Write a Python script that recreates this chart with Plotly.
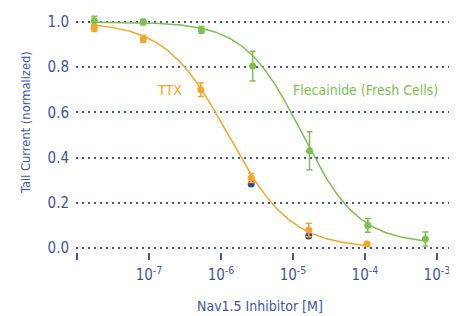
import numpy as np
import plotly.graph_objects as go

# ---- data ----
ttx_logx = [-7.76, -7.08, -6.28, -5.58, -4.78, -3.97]
ttx_y = [0.973, 0.925, 0.70, 0.31, 0.08, 0.018]
ttx_err = [0.015, 0.015, 0.03, 0.02, 0.03, 0.0]

ttx2_logx = [-5.58, -4.78]
ttx2_y = [0.283, 0.053]

flec_logx = [-7.76, -7.08, -6.27, -5.56, -4.77, -3.96, -3.16]
flec_y = [1.005, 1.0, 0.965, 0.805, 0.43, 0.10, 0.04]
flec_err = [0.02, 0.012, 0.015, 0.066, 0.084, 0.03, 0.031]

# Hill fit parameters (top, bottom, logIC50, slope)
ttx_fit = (1.0, 0.0, -5.9, 1.0)
flec_fit = (1.0, 0.02, -4.88, 1.1)

tick_vals = [1e-8, 1e-7, 1e-6, 1e-5, 1e-4, 1e-3]
tick_text = ["", "10<sup>-7</sup>", "10<sup>-6</sup>", "10<sup>-5</sup>", "10<sup>-4</sup>", "10<sup>-3</sup>"]
y_ticks = [0.0, 0.2, 0.4, 0.6, 0.8, 1.0]

ORANGE = "#f7a525"
GREEN = "#7cc04e"
BLUE = "#3d55a6"
NAVY = "#2f4a9c"
FONT = "DejaVu Sans Condensed, Liberation Sans Narrow, sans-serif"


def hill(lx, p):
    top, bot, lic, h = p
    lx = np.asarray(lx)
    return bot + (top - bot) / (1 + 10 ** (h * (lx - lic)))


fig = go.Figure()

for logx, p, col in [(ttx_logx, ttx_fit, ORANGE), (flec_logx, flec_fit, GREEN)]:
    lx = np.linspace(min(logx), max(logx), 200)
    fig.add_trace(go.Scatter(x=10 ** lx, y=hill(lx, p), mode="lines",
                             line=dict(color=col, width=1.5), hoverinfo="skip"))

fig.add_trace(go.Scatter(x=10 ** np.array(ttx2_logx), y=ttx2_y, mode="markers",
                         marker=dict(color=NAVY, size=7)))

fig.add_trace(go.Scatter(x=10 ** np.array(flec_logx), y=flec_y, mode="markers",
                         marker=dict(color=GREEN, size=7),
                         error_y=dict(type="data", array=flec_err, color=GREEN,
                                      thickness=1.5, width=3)))
fig.add_trace(go.Scatter(x=10 ** np.array(ttx_logx), y=ttx_y, mode="markers",
                         marker=dict(color=ORANGE, size=7),
                         error_y=dict(type="data", array=ttx_err, color=ORANGE,
                                      thickness=1.5, width=3)))

fig.add_annotation(x=-6.71, y=0.70, text="TTX", showarrow=False,
                   font=dict(color=ORANGE, size=14, family=FONT))
fig.add_annotation(x=-3.99, y=0.70, text="Flecainide (Fresh Cells)", showarrow=False,
                   font=dict(color=GREEN, size=14, family=FONT))

# axis titles as paper-positioned annotations
fig.add_annotation(xref="paper", yref="paper", x=0.489, y=-0.227,
                   xanchor="center", yanchor="middle",
                   text="Nav1.5 Inhibitor [M]", showarrow=False,
                   font=dict(color=BLUE, size=14, family=FONT))
fig.add_annotation(xref="paper", yref="paper", x=-0.1356, y=0.542,
                   xanchor="center", yanchor="middle",
                   text="Tail Current (normalized)", showarrow=False, textangle=-90,
                   font=dict(color=BLUE, size=12.8, family=FONT))

# page body has an 8px margin, so the figure is 8px smaller and shifted
fig.update_layout(
    width=449, height=308,
    margin=dict(l=68, r=5, t=6, b=64),
    paper_bgcolor="white", plot_bgcolor="white",
    showlegend=False,
    font=dict(family=FONT, color=BLUE, size=15),
    xaxis=dict(type="log", range=[-8.014, -2.79], automargin=False,
               tickvals=tick_vals, ticktext=tick_text,
               ticks="outside", ticklen=7, tickwidth=1.5, tickcolor=BLUE,
               ticklabelstandoff=2,
               showgrid=False, zeroline=False, showline=False,
               tickfont=dict(size=15, color=BLUE)),
    yaxis=dict(range=[-0.0177, 1.0354], tickvals=y_ticks, automargin=False,
               tickformat=".1f", ticks="", showline=False, zeroline=False,
               ticklabelstandoff=6,
               showgrid=True, gridcolor=BLUE, gridwidth=2, griddash="2px,4px",
               tickfont=dict(size=15, color=BLUE)),
)

fig.write_html("out.html")
